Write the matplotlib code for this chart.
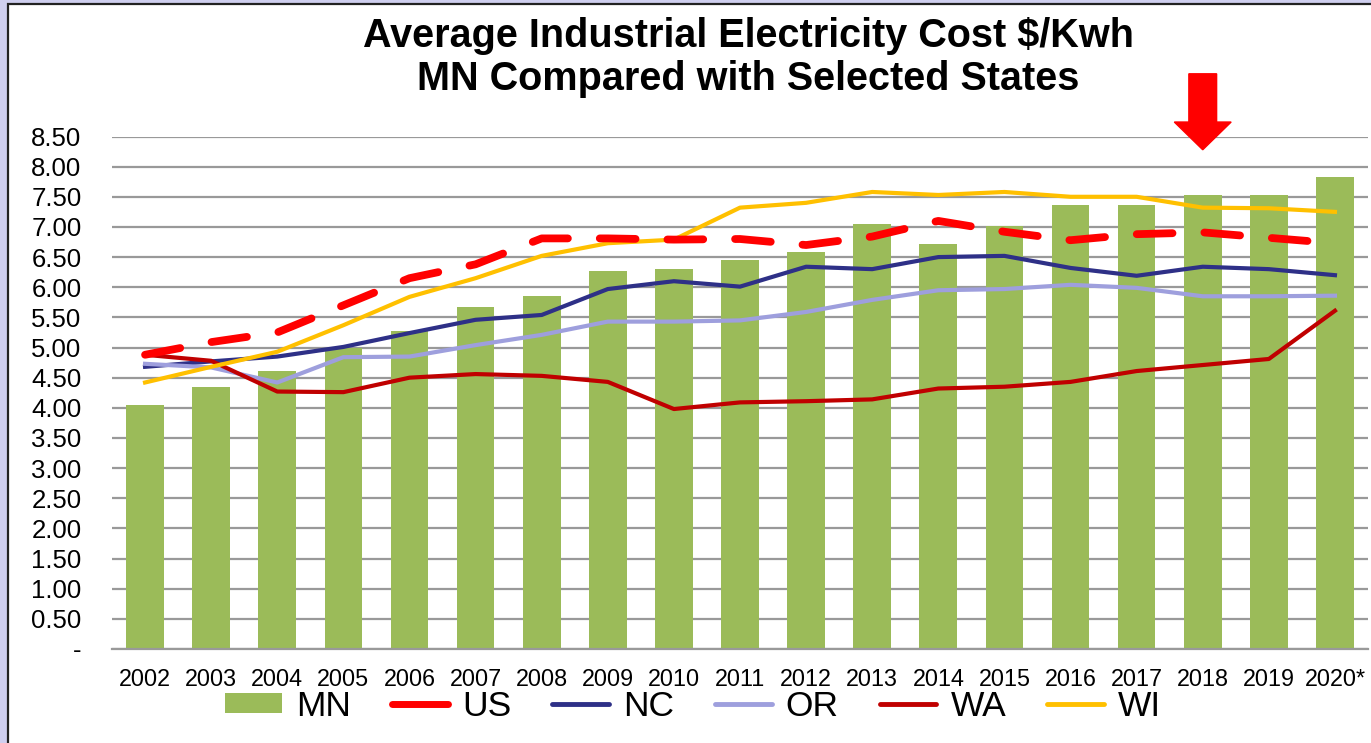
import matplotlib
matplotlib.use("Agg")
import matplotlib.pyplot as plt
from matplotlib.patches import Rectangle, FancyArrow
from matplotlib.lines import Line2D
from matplotlib.patches import Patch
import numpy as np

years = ["2002", "2003", "2004", "2005", "2006", "2007", "2008", "2009", "2010",
         "2011", "2012", "2013", "2014", "2015", "2016", "2017", "2018", "2019", "2020*"]
mn = [4.05, 4.34, 4.61, 5.00, 5.27, 5.68, 5.86, 6.27, 6.30, 6.45, 6.58, 7.05,
      6.71, 7.01, 7.36, 7.36, 7.53, 7.53, 7.83]
us = [4.88, 5.09, 5.25, 5.70, 6.15, 6.38, 6.81, 6.81, 6.79, 6.80, 6.70, 6.84,
      7.10, 6.92, 6.78, 6.88, 6.91, 6.82, 6.73]
nc = [4.68, 4.77, 4.85, 5.01, 5.24, 5.46, 5.54, 5.97, 6.10, 6.01, 6.34, 6.30,
      6.50, 6.52, 6.32, 6.19, 6.34, 6.30, 6.20]
orr = [4.73, 4.67, 4.42, 4.84, 4.85, 5.04, 5.21, 5.43, 5.43, 5.45, 5.59, 5.79,
       5.95, 5.97, 6.04, 5.99, 5.85, 5.85, 5.86]
wa = [4.88, 4.78, 4.27, 4.26, 4.50, 4.56, 4.53, 4.43, 3.98, 4.09, 4.11, 4.14,
      4.32, 4.35, 4.43, 4.61, 4.71, 4.81, 5.61]
wi = [4.42, 4.68, 4.93, 5.37, 5.84, 6.15, 6.52, 6.73, 6.79, 7.32, 7.40, 7.58,
      7.53, 7.58, 7.50, 7.50, 7.32, 7.31, 7.25]
yticks = [0, 0.5, 1.0, 1.5, 2.0, 2.5, 3.0, 3.5, 4.0, 4.5, 5.0, 5.5, 6.0, 6.5,
          7.0, 7.5, 8.0, 8.5]
ytick_labels = ["-"] + [f"{v:.2f}" for v in yticks[1:]]

plt.rcParams['font.family'] = ['Liberation Sans', 'DejaVu Sans']

W, H = 1371, 743
fig = plt.figure(figsize=(W / 100, H / 100), dpi=100)
fig.patch.set_facecolor('#CFCFEF')
# white chart area with border (only left/top edges visible)
fig.add_artist(Rectangle((8 / W, -0.05), 1.2, 1.05 - 4 / H, transform=fig.transFigure,
                         facecolor='white', edgecolor='#222222', linewidth=1.6, zorder=0))

ax = fig.add_axes([112 / W, (H - 649) / H, (1368 - 112) / W, (649 - 136.5) / H])
ax.set_facecolor('none')
x = np.arange(len(years))

ax.bar(x, mn, width=0.57, color='#9BBB59', zorder=2)
ax.plot(x, nc, color='#2E3087', lw=3.0, zorder=3, solid_joinstyle='round')
ax.plot(x, orr, color='#9E9FDD', lw=3.0, zorder=3, solid_joinstyle='round')
ax.plot(x, wa, color='#C00000', lw=3.0, zorder=3, solid_joinstyle='round')
ax.plot(x, wi, color='#FFC000', lw=3.0, zorder=3, solid_joinstyle='round')
ax.plot(x, us, color='#FF0000', lw=5.6, zorder=4, dashes=(4.6, 4.1),
        dash_capstyle='round', dash_joinstyle='round')

ax.set_xlim(-0.5, len(years) - 0.5)
ax.set_ylim(0, 8.5)
ax.set_yticks(yticks)
ax.set_yticklabels(ytick_labels, fontsize=18.5)
ax.set_xticks(x)
ax.set_xticklabels(years, fontsize=16.8)
ax.tick_params(axis='y', length=0, pad=22)
ax.tick_params(axis='x', length=0, pad=13.5)
ax.grid(axis='y', color='#999999', lw=1.6, zorder=1)
ax.set_axisbelow(True)
for s in ['top', 'right', 'left']:
    ax.spines[s].set_visible(False)
ax.spines['bottom'].set_color('#999999')
ax.spines['bottom'].set_linewidth(1.6)

# red arrow above 2018
arr = FancyArrow(16, 9.54, 0, -(9.54 - 8.28), width=0.42, head_width=0.86,
                 head_length=0.46, length_includes_head=True, color='#FF0000',
                 clip_on=False, zorder=5)
ax.add_patch(arr)

fig.text(748 / W, 1 - 36 / H, "Average Industrial Electricity Cost $/Kwh",
         ha='center', va='center', fontsize=28.5, fontweight='bold')
fig.text(748 / W, 1 - 79 / H, "MN Compared with Selected States",
         ha='center', va='center', fontsize=28.5, fontweight='bold')

handles = [Patch(facecolor='#9BBB59'),
           Line2D([], [], color='#FF0000', lw=5, solid_capstyle='round'),
           Line2D([], [], color='#2E3087', lw=3.5, solid_capstyle='round'),
           Line2D([], [], color='#9E9FDD', lw=3.5, solid_capstyle='round'),
           Line2D([], [], color='#C00000', lw=3.5, solid_capstyle='round'),
           Line2D([], [], color='#FFC000', lw=3.5, solid_capstyle='round')]
labels = ["MN", "US", "NC", "OR", "WA", "WI"]
fig.legend(handles, labels, ncol=6, loc='center', bbox_to_anchor=(693 / W, 1 - 706 / H),
           frameon=False, fontsize=25.5, handlelength=1.6, handleheight=0.52,
           handletextpad=0.4, columnspacing=1.15, borderpad=0)

fig.savefig("out.png", dpi=100, facecolor=fig.get_facecolor())
